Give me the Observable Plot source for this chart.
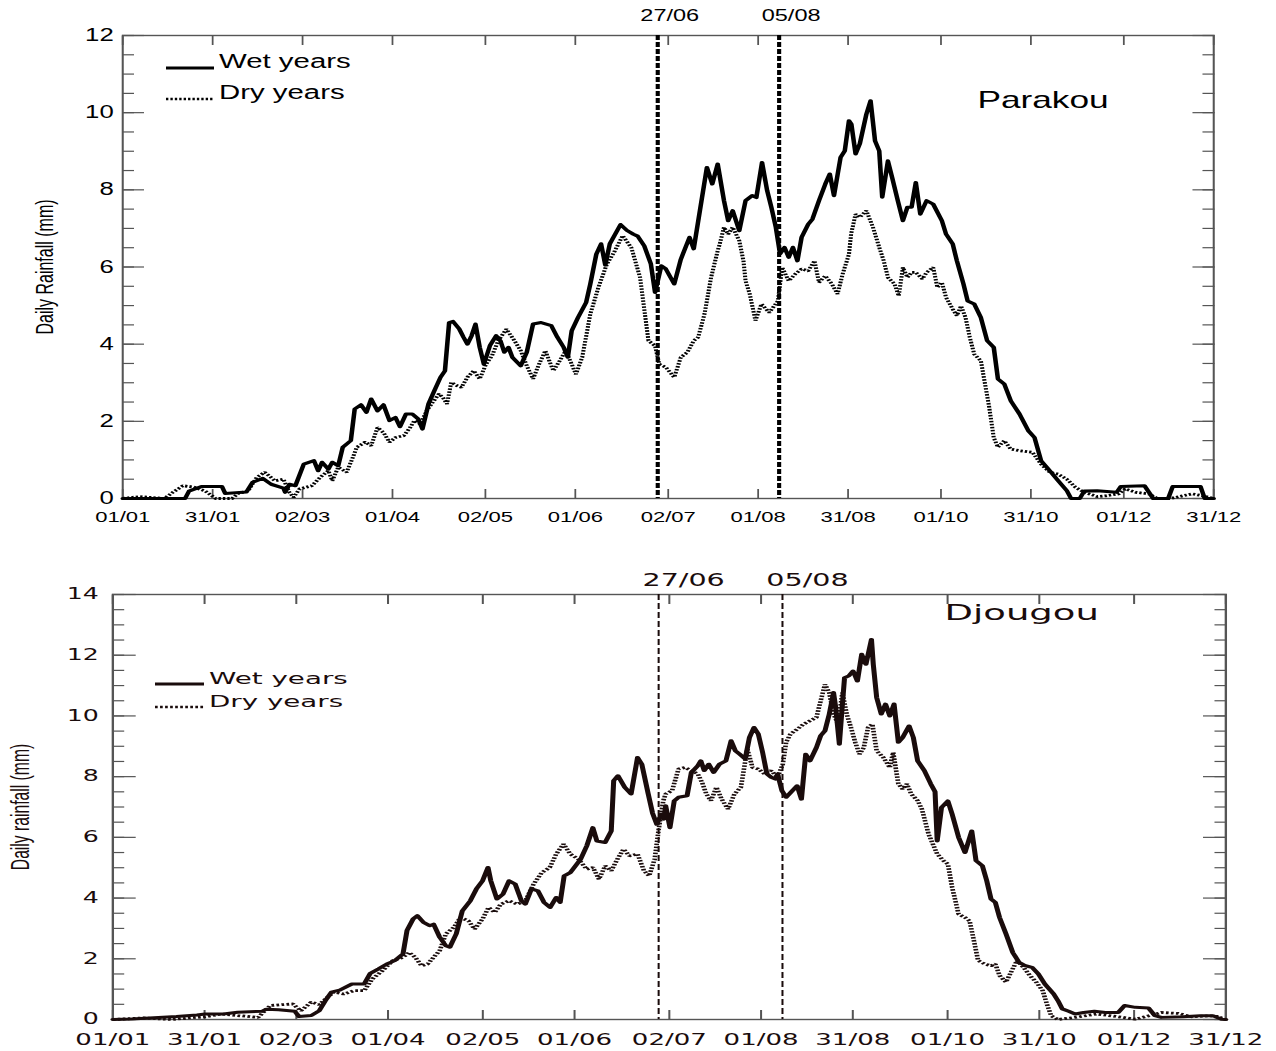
<!DOCTYPE html>
<html><head><meta charset="utf-8">
<script src="https://cdn.jsdelivr.net/npm/d3@7"></script>
<script src="https://cdn.jsdelivr.net/npm/@observablehq/plot@0.6"></script>
<style>
body{margin:0;background:#fff;}
#wrap{width:1276px;}
#wrap svg{display:block;}
</style></head><body><div id="wrap"></div>
<script>
// ---- data (day of year, daily rainfall mm) ----
const tickDays = [0,30,60,90,121,151,182,212,242,273,303,334,364];
const tickLabels = ["01/01","31/01","02/03","01/04","02/05","01/06","02/07","01/08","31/08","01/10","31/10","01/12","31/12"];
const markerDays = [178.5, 219];
const markerLabels = ["27/06","05/08"];
const seriesNames = ["Wet years","Dry years"];

const parakouWet = [[0,0],[20.8,0],[22.1,0.19],[26.2,0.31],[33.1,0.31],[34.2,0.13],[41.3,0.17],[43.3,0.42],[46.7,0.52],[49.5,0.37],[53.6,0.27],[54.2,0.16],[55.6,0.37],[57.6,0.33],[60.4,0.89],[63.8,0.98],[65.2,0.72],[66.5,0.94],[68.6,0.76],[69.9,0.94],[71.9,0.85],[73.4,1.33],[76.1,1.5],[77.4,2.32],[79.5,2.43],[81.3,2.23],[82.9,2.58],[85,2.27],[87,2.43],[89,2.02],[91,2.1],[92.5,1.86],[94.5,2.19],[96.6,2.19],[98.6,2.06],[100,1.8],[102,2.45],[104,2.8],[106,3.14],[107.5,3.31],[108.9,4.56],[110.2,4.59],[112.3,4.39],[113.7,4.18],[115,4.0],[116.4,4.22],[117.7,4.52],[119.1,3.92],[120.5,3.48],[122.5,3.96],[124.6,4.22],[126,4.09],[127.3,3.79],[128.7,3.92],[130,3.66],[132.8,3.44],[134.8,3.79],[136.9,4.52],[139.6,4.56],[143,4.48],[145,4.18],[147.1,3.92],[148.5,3.66],[149.8,4.35],[151.9,4.69],[154.6,5.08],[156,5.56],[158,6.33],[159.6,6.6],[161,6.05],[162.5,6.6],[166.1,7.1],[168.2,6.95],[170.4,6.85],[171.8,6.8],[174,6.55],[176.2,6.08],[177.6,5.34],[179.7,6.03],[181.2,5.95],[184,5.56],[186.2,6.2],[189.1,6.77],[190.5,6.47],[194.9,8.58],[196.7,8.15],[198.5,8.67],[200.6,7.72],[202,7.2],[203.5,7.46],[205.7,6.94],[207.8,7.72],[210,7.85],[211.4,7.8],[213.3,8.71],[215,7.98],[216.4,7.55],[217.9,7.03],[219.3,6.34],[220.8,6.51],[222.2,6.25],[223.6,6.51],[225.1,6.16],[226.5,6.77],[228.7,7.11],[230.1,7.24],[232.3,7.72],[234.4,8.15],[235.9,8.41],[237.3,7.85],[239.5,8.84],[240.9,9.01],[242.3,9.79],[243.1,9.7],[244.5,8.93],[245.9,9.19],[248.1,9.96],[249.5,10.31],[251,9.27],[252.4,9.01],[253.4,7.81],[255.3,8.75],[256.7,8.32],[258.6,7.72],[260.3,7.2],[261.8,7.55],[263.2,7.55],[264.6,8.19],[266.1,7.37],[268.2,7.72],[270.4,7.63],[273.3,7.2],[274.7,6.85],[276.9,6.6],[278.3,6.16],[280.5,5.56],[281.9,5.12],[284.1,5.04],[286.3,4.69],[288.4,4.09],[290.6,3.92],[292,3.1],[294.1,2.97],[296.3,2.53],[299.2,2.19],[302.1,1.76],[304.2,1.58],[306.4,0.98],[309.3,0.72],[312.1,0.46],[315,0.2],[316.4,0],[319.3,0],[320.8,0.19],[325.1,0.2],[331.6,0.16],[333,0.31],[340.9,0.33],[343.8,0],[348.8,0],[350.3,0.31],[359.6,0.31],[361,0],[364,0]];

const parakouDry = [[0,0],[5.7,0.05],[13.9,0],[16.7,0.16],[20.1,0.33],[23.5,0.3],[27.6,0.19],[31,0],[36.5,0],[38.5,0.13],[41.9,0.2],[44.7,0.55],[47.4,0.68],[50.8,0.46],[53.6,0.5],[55.6,0.16],[57,0.03],[59,0.25],[63.1,0.33],[65.9,0.55],[68.6,0.72],[69.9,0.46],[71.9,0.81],[74.7,0.68],[76.8,1.07],[78.1,1.33],[80.9,1.46],[82.9,1.37],[85,1.84],[87,1.71],[89,1.46],[91,1.58],[93.8,1.63],[95.9,1.84],[97.3,2.02],[99.3,1.93],[101.4,2.27],[103.4,2.49],[105.5,2.71],[106.8,2.62],[108.2,2.45],[109.6,3.01],[111.6,2.92],[113,2.88],[115,3.14],[117.1,3.31],[119.1,3.1],[121.2,3.48],[123.2,3.7],[125.3,4.09],[128,4.39],[130.7,4.09],[132.8,3.83],[134.8,3.44],[136.9,3.1],[138.9,3.48],[141,3.83],[142.3,3.57],[143.7,3.31],[145.8,3.57],[147.8,3.83],[149.8,3.48],[151.2,3.22],[153.3,3.66],[156,4.78],[158.7,5.47],[161.5,6.07],[164.2,6.42],[166.8,6.81],[169.7,6.5],[172.6,5.73],[175.4,4.09],[177.6,3.96],[179,3.48],[181.2,3.4],[184,3.14],[186.2,3.66],[188.4,3.79],[190.5,4.09],[192,4.18],[194.1,4.78],[196.3,5.73],[198.5,6.42],[199.2,6.6],[200.6,7.03],[202,6.85],[203.5,7.03],[205.7,6.68],[207.1,6.16],[207.8,5.64],[209.2,5.3],[211.1,4.61],[213.1,5.04],[215.7,4.82],[218.6,5.12],[220,5.99],[222.2,5.64],[224.4,5.82],[226.5,5.95],[228.7,5.9],[230.8,6.16],[232.3,5.6],[234.4,5.77],[236.6,5.56],[238.5,5.3],[240.2,5.82],[242.3,6.33],[243,6.85],[244.5,7.37],[245.9,7.29],[248.1,7.46],[250.3,7.03],[252.4,6.51],[253.9,6.16],[255.3,5.73],[257.5,5.56],[258.9,5.25],[260.3,5.99],[261.8,5.73],[263.2,5.86],[264.6,5.86],[266.8,5.69],[268.2,5.86],[270.4,5.99],[271.8,5.47],[273.3,5.6],[274.7,5.21],[276.9,4.91],[278.3,4.74],[279.7,4.99],[281.2,4.69],[282.6,4.18],[284.1,3.74],[286.3,3.57],[287.7,2.97],[289.1,2.36],[290.6,1.58],[292,1.33],[294.1,1.5],[296.3,1.28],[299.2,1.24],[303.5,1.2],[306.4,0.89],[309.3,0.68],[312.1,0.63],[315,0.5],[317.9,0.29],[320.8,0.16],[325.1,0.05],[328,0.07],[332.3,0.12],[334.4,0.25],[338,0.16],[342.4,0.12],[345.2,0],[349.6,0],[352.4,0.05],[356.8,0.12],[360.3,0.07],[364,0]];

const djougouWet = [[0,0],[6.1,0.02],[20.8,0.1],[27.5,0.15],[30.2,0.18],[36.2,0.18],[40.8,0.24],[48.8,0.27],[50.2,0.34],[54.2,0.32],[59.5,0.27],[60.9,0.1],[64.9,0.13],[67.5,0.29],[69.5,0.62],[71.5,0.9],[74.2,0.97],[78.2,1.17],[82.2,1.17],[84.2,1.52],[86.9,1.67],[89.6,1.83],[92.2,1.94],[94.9,2.16],[96.2,2.93],[98.2,3.31],[99.6,3.42],[101.6,3.2],[103.6,3.09],[104.9,3.14],[106.9,2.71],[108.9,2.43],[110.2,2.38],[112.3,2.82],[114.3,3.58],[116.9,3.91],[118.9,4.3],[120.9,4.57],[122.7,5.01],[123.6,4.57],[125.6,3.97],[127.6,4.13],[129.6,4.57],[131.6,4.46],[133.6,3.91],[134.9,3.8],[136.9,4.3],[139,4.24],[141,3.86],[143,3.69],[145,4.02],[146.3,3.86],[147.6,4.73],[149.6,4.84],[153,5.28],[155,5.72],[157,6.32],[158.3,5.88],[161,5.83],[163,6.21],[163.8,7.87],[165.2,8.03],[167.4,7.65],[169.5,7.43],[171.6,8.63],[173,8.41],[175.1,7.43],[176.5,6.8],[177.9,6.43],[179.3,6.76],[180.2,6.6],[180.8,7.04],[182.2,6.32],[183.6,7.2],[185,7.32],[187.8,7.37],[189.2,8.14],[191.3,8.36],[192.3,8.52],[193.4,8.2],[194.9,8.41],[196.5,8.14],[198.4,8.41],[200.5,8.52],[202.2,9.18],[203.6,8.85],[205,8.74],[206.8,8.58],[208.2,9.29],[209.7,9.62],[211.1,9.4],[212.5,8.8],[213.9,8.09],[215.3,7.98],[216.7,7.92],[217.4,8.09],[218.8,7.54],[220.2,7.32],[222.3,7.54],[223.8,7.7],[225.2,7.26],[226.6,8.74],[228,8.52],[230.1,8.96],[231.5,9.35],[232.9,9.51],[234.3,10.06],[235.7,10.77],[236.4,10.28],[237.6,9.07],[238.6,10.39],[239.3,11.26],[240.7,11.32],[242.1,11.48],[243.5,11.15],[244.9,12.03],[246.3,11.7],[248.1,12.52],[248.7,11.7],[249.8,10.61],[251.3,10.06],[252.7,10.39],[254.1,10.0],[255.5,10.39],[256.9,9.13],[258.3,9.29],[260.4,9.67],[261.8,9.29],[263.2,8.52],[265.4,8.2],[267.5,7.76],[268.9,7.5],[269.6,5.88],[271,6.98],[273.1,7.2],[274.5,6.76],[276.6,6.0],[278.7,5.5],[280.9,6.21],[282.3,5.23],[284.4,5.06],[285.8,4.57],[287.2,3.97],[288.6,3.86],[290,3.36],[292.1,2.82],[294.3,2.21],[296.4,1.88],[298.5,1.77],[300.6,1.72],[302.7,1.5],[304.8,1.17],[307.7,0.84],[309.1,0.62],[310.5,0.35],[312.6,0.27],[314.7,0.18],[317.5,0.23],[321,0.27],[324.6,0.23],[328.8,0.23],[330.9,0.46],[334.4,0.4],[338.7,0.38],[340.8,0.13],[342.9,0.07],[350,0.09],[355.6,0.12],[359.8,0.12],[362.6,0.01],[364,0]];

const djougouDry = [[0,0],[10.1,0.05],[19.5,0],[24.8,0.05],[30.2,0.09],[35.5,0.18],[40.8,0.13],[47.5,0.07],[51.5,0.46],[55.5,0.49],[58.9,0.51],[61.5,0.29],[64.9,0.57],[67.5,0.49],[70.2,0.73],[72.2,0.9],[75.5,0.84],[78.9,0.95],[82.2,0.95],[84.9,1.34],[88.2,1.61],[91.6,1.94],[94.9,2.05],[96.9,2.21],[98.9,2.05],[101,1.77],[103,1.83],[104.9,2.05],[106.9,2.27],[108.9,2.82],[111.6,3.04],[113.6,3.36],[116.3,3.25],[118.3,2.98],[120.9,3.31],[122.9,3.69],[124.9,3.53],[126.9,3.8],[129.6,3.91],[132.3,3.8],[134.9,3.91],[137.6,4.46],[140.3,4.84],[142.9,5.01],[145,5.45],[147.4,5.78],[149.6,5.45],[152.3,5.28],[155,4.95],[157,5.01],[159,4.62],[161,5.06],[163,4.9],[165,5.28],[167,5.61],[169,5.39],[171.6,5.45],[173.7,4.9],[175.4,4.73],[177.2,5.28],[178.6,6.32],[180,7.2],[180.8,7.43],[182.9,7.54],[185,8.25],[187.1,8.3],[189.2,8.2],[191.3,8.09],[192.7,7.81],[194.1,7.43],[195.6,7.21],[197.4,7.65],[199.1,7.26],[201.2,6.93],[203.3,7.43],[205.4,7.65],[207.5,8.91],[209.2,8.3],[211.1,8.25],[213.2,8.09],[215.3,8.2],[217.4,7.98],[219.1,8.41],[220.2,9.13],[221.6,9.4],[223.8,9.56],[225.9,9.73],[228,9.84],[230.1,9.95],[231.5,10.5],[232.9,11.04],[234.3,10.77],[235.7,10.06],[237.2,9.73],[238.6,10.77],[240,10.06],[241.4,9.62],[242.8,9.13],[244.2,8.74],[245.6,8.96],[247,9.62],[248.4,9.73],[249.8,8.85],[252,8.63],[254.1,8.3],[255.2,8.8],[256.9,7.76],[258.3,7.59],[259.7,7.76],[261.1,7.43],[263.2,7.21],[264.6,6.93],[266.8,6.1],[269.6,5.45],[271.7,5.23],[273.1,5.12],[274.5,4.35],[276.6,3.47],[278.7,3.36],[280.2,3.25],[281.6,2.6],[283,1.94],[285.1,1.83],[287.2,1.77],[288.6,1.83],[290,1.45],[292.1,1.23],[294.3,1.67],[295.7,1.94],[297.8,1.72],[299.9,1.45],[302,1.23],[304.1,0.95],[305.5,0.5],[306.9,0.12],[309.1,0],[314.7,0.07],[321.8,0.18],[328.8,0.09],[334.4,0.01],[338.7,0.12],[342.9,0.23],[348.5,0.2],[352.8,0.09],[358.4,0.12],[361.2,0.1],[364,0]];

const labelByDay = new Map(tickDays.map((d, i) => [d, tickLabels[i]]));
const DOT = "1.6,1.4";

function panel(c) {
  const W = 1276 / c.s;
  const px = v => v / c.s;
  const ml = px(c.left), mr = px(1276 - c.right);
  const svg = Plot.plot({
    width: W, height: c.height,
    marginLeft: ml, marginRight: mr, marginTop: c.top, marginBottom: c.height - c.bottom,
    style: {fontFamily: c.font, color: c.ink, background: "#fff", overflow: "visible"},
    x: {domain: [0, 364]},
    y: {domain: [0, c.yMax]},
    marks: [
      Plot.axisY({anchor: "left", ticks: d3.range(0, c.yMax + 0.01, 0.5), tickSize: -px(c.minor), text: null, label: null, stroke: c.axis, strokeWidth: 1.2}),
      Plot.axisY({anchor: "left", ticks: d3.range(0, c.yMax + 0.01, 2), tickSize: -px(c.major), text: null, label: null, stroke: c.axis, strokeWidth: 1.2}),
      Plot.axisY({anchor: "right", ticks: d3.range(0, c.yMax + 0.01, 0.5), tickSize: -px(c.minor), text: null, label: null, stroke: c.axis, strokeWidth: 1.2}),
      Plot.axisY({anchor: "right", ticks: d3.range(0, c.yMax + 0.01, 2), tickSize: -px(c.major), text: null, label: null, stroke: c.axis, strokeWidth: 1.2}),
      Plot.axisY({anchor: "left", ticks: d3.range(0, c.yMax + 0.01, 2), tickSize: 0, tickPadding: px(c.yPad), fontSize: c.yFont, label: null, tickFormat: d => String(d), fill: c.ink}),
      Plot.axisX({anchor: "top", ticks: tickDays, tickSize: -9, text: null, label: null, stroke: c.axis, strokeWidth: 1.2}),
      Plot.axisX({anchor: "bottom", ticks: tickDays, tickSize: -9, text: null, label: null, stroke: c.axis, strokeWidth: 1.2}),
      Plot.axisX({anchor: "bottom", ticks: tickDays, tickSize: 0, tickPadding: c.xPad, fontSize: c.xFont, label: null, tickFormat: d => labelByDay.get(d), fill: c.ink}),
      Plot.frame({stroke: c.axis, strokeWidth: 1.4}),
      Plot.ruleX(markerDays, {stroke: c.ink, strokeWidth: c.mkWidth, strokeDasharray: c.mkDash, strokeLinecap: "butt"}),
      Plot.text(markerLabels, {x: (d, i) => markerDays[i], text: d => d, frameAnchor: "top", dy: c.mkDy, dx: px(c.mkDx), fontSize: c.mkFont, fill: c.ink, lineAnchor: "middle"}),
      Plot.line(c.dry, {x: d => d[0], y: d => d[1], stroke: c.ink, strokeWidth: 2.8, strokeDasharray: DOT, strokeLinecap: "butt", strokeLinejoin: "miter"}),
      Plot.line(c.wet, {x: d => d[0], y: d => d[1], stroke: c.ink, strokeWidth: c.wetWidth}),
      Plot.text([c.station], {text: d => d, frameAnchor: "top-right", textAnchor: "end", lineAnchor: "middle", dx: -px(c.stDx), dy: c.stDy, fontSize: c.stFont, fill: c.ink}),
      Plot.text([c.ylabel], {text: d => d, frameAnchor: "left", rotate: -90, textAnchor: "middle", lineAnchor: "middle", dx: px(c.ylX) - ml, fontSize: c.ylFont, fontFamily: "Liberation Sans, Arial, sans-serif", fill: c.ink})
    ]
  });
  // legend
  const g = d3.select(svg).append("g").attr("font-family", c.font).attr("font-size", c.lgFont)
    .attr("fill", c.ink).attr("text-anchor", "start");
  [[c.lgY1, null, c.wetWidth, seriesNames[0]], [c.lgY2, DOT, 2.6, seriesNames[1]]].forEach(([y, dash, w, name]) => {
    const l = g.append("line").attr("x1", px(c.lgX0)).attr("x2", px(c.lgX1)).attr("y1", y).attr("y2", y)
      .attr("stroke", c.ink).attr("stroke-width", w);
    if (dash) l.attr("stroke-dasharray", dash);
    g.append("text").attr("x", px(c.lgT)).attr("y", y).text(name);
  });
  svg.setAttribute("preserveAspectRatio", "none");
  svg.style.width = "1276px";
  svg.style.height = c.height + "px";
  svg.style.maxWidth = "none";
  return svg;
}

const wrap = document.getElementById("wrap");
wrap.appendChild(panel({
  s: 1.47, height: 540, top: 35, bottom: 498, left: 122, right: 1213, yMax: 12,
  font: "Liberation Sans, Arial, sans-serif", ink: "#000", axis: "#555",
  major: 22, minor: 12, yPad: 9, yFont: 17.5, xPad: 13, xFont: 15,
  mkWidth: 2.8, mkDash: "5,2", mkDy: -20, mkDx: 12, mkFont: 16,
  wet: parakouWet, dry: parakouDry, wetWidth: 3.1,
  station: "Parakou", stDx: 105, stDy: 65, stFont: 24,
  ylabel: "Daily Rainfall (mm)", ylX: 45, ylFont: 16,
  lgFont: 20, lgX0: 166, lgX1: 214, lgT: 219, lgY1: 68, lgY2: 99
}));
wrap.appendChild(panel({
  s: 1.68, height: 511, top: 54, bottom: 479, left: 112, right: 1225, yMax: 14,
  font: "DejaVu Sans, sans-serif", ink: "#1a0c0c", axis: "#555",
  major: 23.7, minor: 12.2, yPad: 14, yFont: 15, xPad: 14, xFont: 15.5,
  mkWidth: 1.2, mkDash: "6,3", mkDy: -14, mkDx: 25, mkFont: 17,
  wet: djougouWet, dry: djougouDry, wetWidth: 3,
  station: "Djougou", stDx: 127, stDy: 18, stFont: 22,
  ylabel: "Daily rainfall (mm)", ylX: 20, ylFont: 15.7,
  lgFont: 16.5, lgX0: 155, lgX1: 204, lgT: 209, lgY1: 144, lgY2: 167
}));
</script></body></html>
